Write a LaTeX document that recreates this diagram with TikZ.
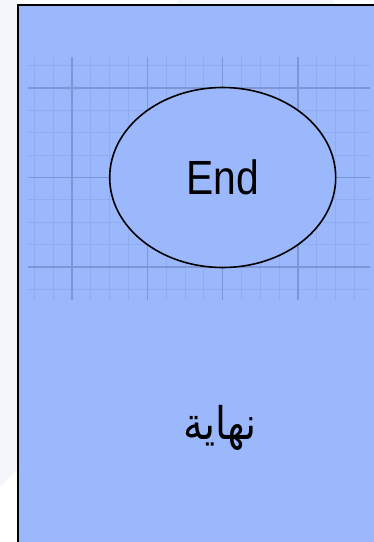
\documentclass[tikz,border=0pt]{standalone}
\usepackage{fontspec}
\setmainfont{Liberation Sans}
\newfontfamily\arabicfont[Script=Arabic]{DejaVu Sans}
\TeXXeTstate=1
\usetikzlibrary{positioning,shapes.geometric}
\definecolor{panelBlue}{RGB}{155,184,253}
\definecolor{gridMinor}{RGB}{144,171,238}
\definecolor{gridMajor}{RGB}{126,150,212}
\definecolor{faintBack}{RGB}{243,247,251}

\begin{document}
\begin{tikzpicture}[x=1pt,y=-1pt,
    minorline/.style={gridMinor, line width=1pt},
    majorline/.style={gridMajor, line width=1.3pt},
    endshape/.style={ellipse, draw, line width=1.6pt, fill=panelBlue,
      minimum width=226pt, minimum height=180pt, inner sep=0pt}]
    \useasboundingbox (0,0) rectangle (374,542);
    \clip (0,0) rectangle (374,542);
    \fill[faintBack] (0,0) -- (17,0) -- (17,470) -- (0,487) -- cycle;
    \fill[faintBack] (177,0) rectangle (333,4);
    \draw[line width=1.8pt, fill=panelBlue] (18,5) rectangle (400,560);
    \foreach \k in {0,...,17}
      \draw[minorline] ({34.4+18.83*\k},57) -- ({34.4+18.83*\k},300);
    \foreach \k in {0,...,10}
      \draw[minorline] (28,{65.6+22.38*\k}) -- (370,{65.6+22.38*\k});
    \foreach \k in {2,6,10,14}
      \draw[majorline] ({34.4+18.83*\k},57) -- ({34.4+18.83*\k},300);
    \foreach \k in {1,5,9}
      \draw[majorline] (28,{65.6+22.38*\k}) -- (370,{65.6+22.38*\k});
    \node[endshape] (endnode) at (222.7,177.5)
      {\fontsize{48}{48}\selectfont\scalebox{0.85}[1]{End}};
    \node (endlabel) at (220,428)
      {\fontsize{45}{45}\selectfont\scalebox{0.88}[1]{\arabicfont\beginR نهاية\endR}};
  \end{tikzpicture}
\end{document}
